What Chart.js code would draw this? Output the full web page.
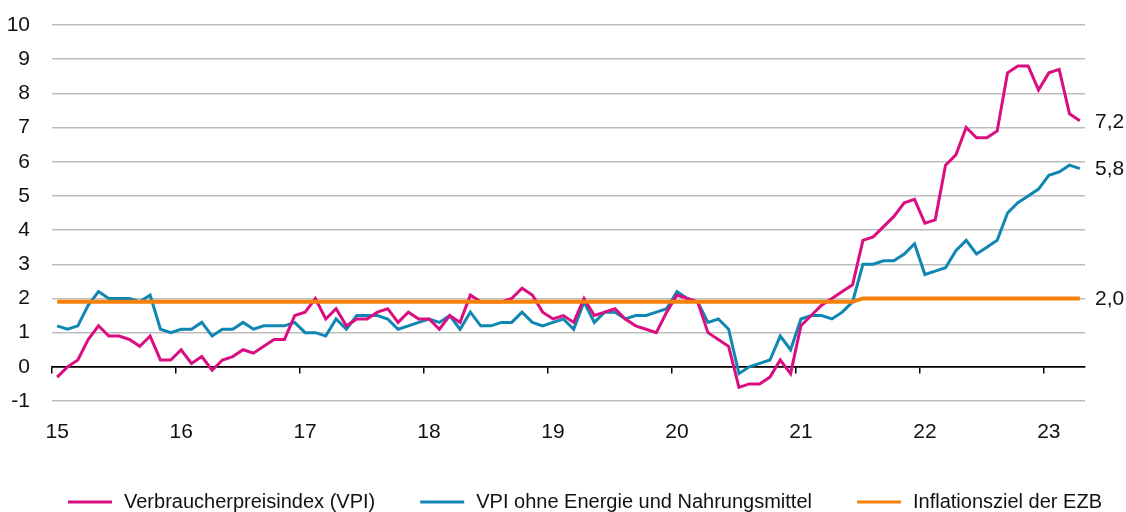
<!DOCTYPE html>
<html lang="de">
<head>
<meta charset="utf-8">
<title>Inflation</title>
<script src="https://cdn.jsdelivr.net/npm/chart.js@4.4.1/dist/chart.umd.min.js"></script>
<style>
  html, body { margin: 0; padding: 0; background: #fff; }
  #wrap { width: 1126px; height: 512px; position: relative; }
</style>
</head>
<body>
<div id="wrap"><canvas id="inflationChart"></canvas></div>
<script>
// Jahre (Achsenbeschriftung) und Monate
const years = ['15', '16', '17', '18', '19', '20', '21', '22', '23'];
const monthsInLastYear = 4;

// Verbraucherpreisindex (VPI), % ggü. Vorjahr, Jan 2015 - Apr 2023
const vpi = [
  -0.3, 0.0, 0.2, 0.8, 1.2, 0.9, 0.9, 0.8, 0.6, 0.9, 0.2, 0.2,
  0.5, 0.1, 0.3, -0.1, 0.2, 0.3, 0.5, 0.4, 0.6, 0.8, 0.8, 1.5,
  1.6, 2.0, 1.4, 1.7, 1.2, 1.4, 1.4, 1.6, 1.7, 1.3, 1.6, 1.4,
  1.4, 1.1, 1.5, 1.3, 2.1, 1.9, 1.9, 1.9, 2.0, 2.3, 2.1, 1.6,
  1.4, 1.5, 1.3, 2.0, 1.5, 1.6, 1.7, 1.4, 1.2, 1.1, 1.0, 1.6,
  2.1, 2.0, 1.9, 1.0, 0.8, 0.6, -0.6, -0.5, -0.5, -0.3, 0.2, -0.2,
  1.2, 1.5, 1.8, 2.0, 2.2, 2.4, 3.7, 3.8, 4.1, 4.4, 4.8, 4.9,
  4.2, 4.3, 5.9, 6.2, 7.0, 6.7, 6.7, 6.9, 8.6, 8.8, 8.8, 8.1,
  8.6, 8.7, 7.4, 7.2
];

// VPI ohne Energie und Nahrungsmittel
const vpiCore = [
  1.2, 1.1, 1.2, 1.8, 2.2, 2.0, 2.0, 2.0, 1.9, 2.1, 1.1, 1.0,
  1.1, 1.1, 1.3, 0.9, 1.1, 1.1, 1.3, 1.1, 1.2, 1.2, 1.2, 1.3,
  1.0, 1.0, 0.9, 1.4, 1.1, 1.5, 1.5, 1.5, 1.4, 1.1, 1.2, 1.3,
  1.4, 1.3, 1.5, 1.1, 1.6, 1.2, 1.2, 1.3, 1.3, 1.6, 1.3, 1.2,
  1.3, 1.4, 1.1, 1.9, 1.3, 1.6, 1.6, 1.4, 1.5, 1.5, 1.6, 1.7,
  2.2, 2.0, 1.9, 1.3, 1.4, 1.1, -0.2, 0.0, 0.1, 0.2, 0.9, 0.5,
  1.4, 1.5, 1.5, 1.4, 1.6, 1.9, 3.0, 3.0, 3.1, 3.1, 3.3, 3.6,
  2.7, 2.8, 2.9, 3.4, 3.7, 3.3, 3.5, 3.7, 4.5, 4.8, 5.0, 5.2,
  5.6, 5.7, 5.9, 5.8
];

// Inflationsziel der EZB
const ezbTarget = [
  1.9, 1.9, 1.9, 1.9, 1.9, 1.9, 1.9, 1.9, 1.9, 1.9, 1.9, 1.9,
  1.9, 1.9, 1.9, 1.9, 1.9, 1.9, 1.9, 1.9, 1.9, 1.9, 1.9, 1.9,
  1.9, 1.9, 1.9, 1.9, 1.9, 1.9, 1.9, 1.9, 1.9, 1.9, 1.9, 1.9,
  1.9, 1.9, 1.9, 1.9, 1.9, 1.9, 1.9, 1.9, 1.9, 1.9, 1.9, 1.9,
  1.9, 1.9, 1.9, 1.9, 1.9, 1.9, 1.9, 1.9, 1.9, 1.9, 1.9, 1.9,
  1.9, 1.9, 1.9, 1.9, 1.9, 1.9, 1.9, 1.9, 1.9, 1.9, 1.9, 1.9,
  1.9, 1.9, 1.9, 1.9, 1.9, 1.9, 2.0, 2.0, 2.0, 2.0, 2.0, 2.0,
  2.0, 2.0, 2.0, 2.0, 2.0, 2.0, 2.0, 2.0, 2.0, 2.0, 2.0, 2.0,
  2.0, 2.0, 2.0, 2.0
];

const fontFamily = "'Liberation Sans', Arial, sans-serif";
const fontSize = 21;
const legendFontSize = 20;
const textColor = '#111';

const labels = [];
years.forEach((y, i) => {
  const n = i === years.length - 1 ? monthsInLastYear : 12;
  for (let m = 1; m <= n; m++) labels.push(m + '/' + y);
});

// Endwerte rechts neben den Linien
const endLabels = {
  id: 'endLabels',
  afterDatasetsDraw(chart) {
    const { ctx, chartArea } = chart;
    const yScale = chart.scales.y;
    ctx.save();
    ctx.font = fontSize + 'px ' + fontFamily;
    ctx.fillStyle = textColor;
    ctx.textBaseline = 'middle';
    chart.data.datasets.forEach(ds => {
      const last = ds.data[ds.data.length - 1];
      ctx.fillText(last.toFixed(1).replace('.', ','), chartArea.right + 10, yScale.getPixelForValue(last) + 1);
    });
    ctx.restore();
  }
};

// Legende unten
const bottomLegend = {
  id: 'bottomLegend',
  afterDraw(chart) {
    const { ctx } = chart;
    ctx.save();
    ctx.font = legendFontSize + 'px ' + fontFamily;
    ctx.textBaseline = 'middle';
    let x = 68;
    const y = chart.height - 10;
    chart.data.datasets.forEach(ds => {
      ctx.fillStyle = ds.borderColor;
      ctx.fillRect(x, y - 1.5, 44, 3);
      ctx.fillStyle = textColor;
      ctx.fillText(ds.label, x + 56, y);
      x += 56 + ctx.measureText(ds.label).width + 45;
    });
    ctx.restore();
  }
};

const ctx = document.getElementById('inflationChart').getContext('2d');
const chart = new Chart(ctx, {
  type: 'line',
  data: {
    labels: labels,
    datasets: [{
      label: 'Verbraucherpreisindex (VPI)',
      data: vpi,
      borderColor: 'rgb(218, 14, 128)',
      borderWidth: 3,
      order: 1
    }, {
      label: 'VPI ohne Energie und Nahrungsmittel',
      data: vpiCore,
      borderColor: 'rgb(16, 134, 178)',
      borderWidth: 3,
      order: 2
    }, {
      label: 'Inflationsziel der EZB',
      data: ezbTarget,
      borderColor: 'rgb(245, 128, 10)',
      borderWidth: 4,
      order: 0
    }]
  },
  options: {
    responsive: true,
    maintainAspectRatio: false,
    animation: false,
    layout: { padding: { left: 7, right: 41, top: 25, bottom: 65 } },
    elements: {
      point: { radius: 0 },
      line: { tension: 0, fill: false }
    },
    plugins: {
      legend: { display: false },
      tooltip: { enabled: false }
    },
    scales: {
      x: {
        type: 'category',
        offset: true,
        grid: { display: false, drawTicks: false },
        border: { display: false },
        ticks: {
          autoSkip: false,
          maxRotation: 0,
          padding: 19,
          color: textColor,
          font: { family: fontFamily, size: fontSize },
          callback: (val, i) => i % 12 === 0 ? years[i / 12] : ''
        },
        afterFit: s => { s.height = 46; s.paddingLeft = 0; s.paddingRight = 0; }
      },
      xZero: {
        type: 'category',
        axis: 'x',
        position: { y: 0 },
        offset: true,
        grid: {
          offset: true,
          drawOnChartArea: false,
          drawTicks: true,
          tickLength: 6,
          lineWidth: 1.5,
          color: c => c.index % 12 === 0 ? '#000' : 'rgba(0,0,0,0)'
        },
        border: { display: true, color: '#000', width: 1.5 },
        ticks: { display: false, autoSkip: false }
      },
      y: {
        min: -1,
        max: 10,
        ticks: {
          stepSize: 1,
          padding: 22,
          color: textColor,
          font: { family: fontFamily, size: fontSize }
        },
        grid: {
          drawTicks: false,
          lineWidth: 1.5,
          color: c => c.tick && c.tick.value === 0 ? '#000' : '#bdbdbd'
        },
        border: { display: false },
        afterFit: s => { s.width = 45; s.paddingTop = 0; s.paddingBottom = 0; }
      }
    }
  },
  plugins: [endLabels, bottomLegend]
});
</script>
</body>
</html>
